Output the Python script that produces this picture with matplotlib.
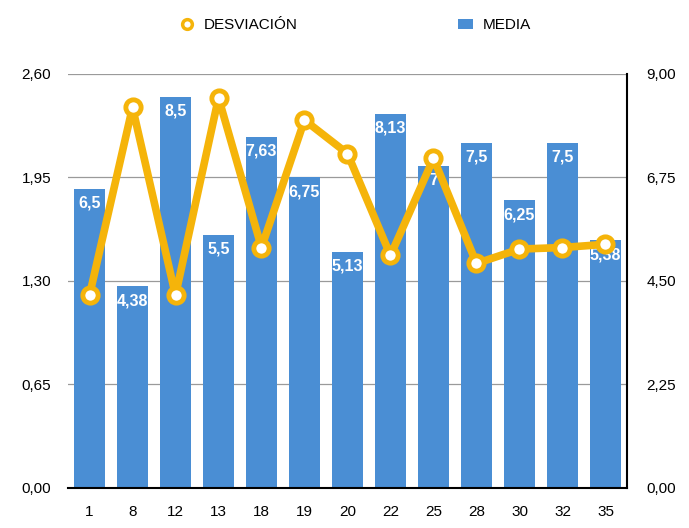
import numpy as np
import matplotlib
matplotlib.use('Agg')
import matplotlib.pyplot as plt
from matplotlib.lines import Line2D
from matplotlib.patches import Patch

plt.rcParams.update({
    'font.family': ['Liberation Sans Narrow', 'Liberation Sans', 'DejaVu Sans'],
    'font.size': 11,
})

# ---- data ----
categories = ['1', '8', '12', '13', '18', '19', '20', '22', '25', '28', '30', '32', '35']
media = [6.5, 4.38, 8.5, 5.5, 7.63, 6.75, 5.13, 8.13, 7.0, 7.5, 6.25, 7.5, 5.38]
desviacion = [1.21, 2.39, 1.21, 2.45, 1.51, 2.31, 2.10, 1.46, 2.07, 1.41, 1.50, 1.51, 1.53]
left_ticks = [0.0, 0.65, 1.30, 1.95, 2.60]
right_ticks = [0.0, 2.25, 4.50, 6.75, 9.00]

C_BAR = '#4A8ED4'
C_LINE = '#F5B40A'


def comma(v, fmt='{:.2f}'):
    return fmt.format(v).replace('.', ',')


def bar_label(v):
    s = f'{v:.2f}'.rstrip('0').rstrip('.')
    return s.replace('.', ',')


fig = plt.figure(figsize=(6.89, 5.28), dpi=100)
ax = fig.add_axes([0.0987, 0.0758, 0.8113, 0.7842])   # bars, right axis
axl = ax.twinx()                                       # line, left axis

x = np.arange(len(categories))

# grid + bars
for t in right_ticks[1:]:
    ax.axhline(t, color='#9a9a9a', linewidth=0.9, zorder=0)
bars = ax.bar(x, media, width=0.74, color=C_BAR, zorder=2)
for b, v in zip(bars, media):
    ax.annotate(bar_label(v), (b.get_x() + b.get_width() / 2, v),
                xytext=(0, -5), textcoords='offset points',
                ha='center', va='top', color='white', fontweight='bold',
                fontsize=11.5, zorder=3)

ax.set_xlim(-0.5, len(categories) - 0.5)
ax.set_ylim(0, 9)
ax.yaxis.tick_right()
ax.set_yticks(right_ticks)
ax.set_yticklabels([comma(t) for t in right_ticks])
ax.set_xticks(x)
ax.set_xticklabels(categories)
ax.tick_params(length=0, labelsize=11)
ax.tick_params(axis='x', pad=12)
ax.tick_params(axis='y', pad=14)

for s in ['top', 'left']:
    ax.spines[s].set_visible(False)
ax.spines['bottom'].set_linewidth(1.5)
ax.spines['right'].set_linewidth(1.5)

# line
axl.plot(x, desviacion, color=C_LINE, linewidth=5.5, marker='o', markersize=11,
         markerfacecolor='white', markeredgecolor=C_LINE, markeredgewidth=3.5,
         zorder=5, clip_on=False)
axl.set_ylim(0, 2.6)
axl.yaxis.tick_left()
axl.set_yticks(left_ticks)
axl.set_yticklabels([comma(t) for t in left_ticks])
axl.tick_params(length=0, pad=12, labelsize=11)
for s in ['top', 'left', 'right', 'bottom']:
    axl.spines[s].set_visible(False)

# legend
handles = [
    Line2D([], [], linestyle='none', marker='o', markersize=7,
           markerfacecolor='white', markeredgecolor=C_LINE, markeredgewidth=2.5),
    Patch(facecolor=C_BAR),
]
fig.legend(handles, ['DESVIACIÓN', 'MEDIA'], loc='center', bbox_to_anchor=(0.515, 0.952),
           ncol=2, frameon=False, columnspacing=10.5, handlelength=1.0,
           handletextpad=0.6, fontsize=11)

fig.savefig('out.png', dpi=100)
